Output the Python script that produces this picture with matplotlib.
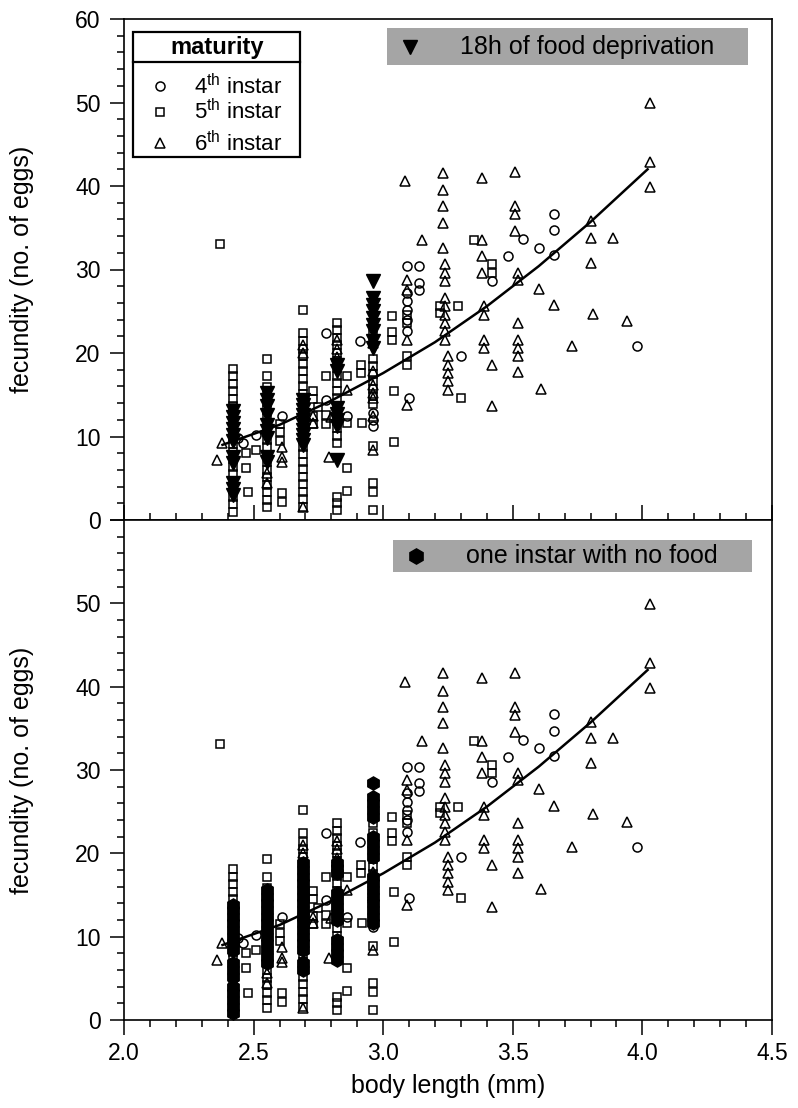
import matplotlib
matplotlib.use("Agg")
import matplotlib.pyplot as plt
from matplotlib.ticker import MultipleLocator, FixedLocator
from matplotlib.patches import Rectangle
from matplotlib.lines import Line2D

plt.rcParams['font.family'] = ['Liberation Sans', 'DejaVu Sans']
plt.rcParams['mathtext.fontset'] = 'custom'
plt.rcParams['mathtext.rm'] = 'Liberation Sans'
plt.rcParams['mathtext.it'] = 'Liberation Sans:italic'
plt.rcParams['mathtext.bf'] = 'Liberation Sans:bold'

# ---- 4th instar females (open circles) ----
circ_len = [2.46, 2.51, 2.44, 2.61, 2.78, 2.78, 2.86,
            2.96, 2.96, 2.96, 2.91,
            3.09, 3.09, 3.09, 3.09, 3.09, 3.09, 3.10,
            3.14, 3.14, 3.14,
            3.30, 3.42, 3.48, 3.54, 3.60, 3.66, 3.66, 3.66, 3.98]
circ_egg = [9.2, 10.2, 9.8, 12.4, 14.4, 22.4, 12.4,
            11.2, 12.0, 12.8, 21.4,
            30.4, 27.2, 26.2, 25.2, 24.0, 22.6, 14.6,
            30.4, 28.4, 27.5,
            19.6, 28.6, 31.6, 33.6, 32.6, 36.7, 34.7, 31.7, 20.8]

# ---- 5th instar females (open squares) ----
sq_len = ([2.42] * 20 + [2.37, 2.47, 2.47, 2.48, 2.51]
          + [2.55] * 19 + [2.60, 2.60, 2.60, 2.61, 2.61]
          + [2.69] * 25 + [2.73, 2.73, 2.73, 2.73, 2.75]
          + [2.82] * 20 + [2.78, 2.78, 2.78, 2.86, 2.86, 2.86, 2.86, 2.915, 2.915, 2.92]
          + [2.96] * 14 + [3.035, 3.035, 3.035, 3.04, 3.04]
          + [3.09, 3.09, 3.09, 3.09]
          + [3.22, 3.22, 3.29, 3.30, 3.35, 3.42, 3.42])
sq_egg = ([1.0, 1.9, 2.8, 3.7, 4.6, 5.5, 6.4, 7.3, 8.2, 9.1, 10.0, 10.9, 11.8, 12.7,
           13.6, 14.5, 15.4, 16.3, 17.2, 18.1]
          + [33.1, 8.0, 6.2, 3.3, 8.4]
          + [1.5, 2.4, 3.3, 4.2, 5.1, 6.0, 6.9, 7.8, 8.7, 9.6, 10.5, 11.4, 12.3, 13.2,
             14.1, 15.0, 15.9, 17.2, 19.3]
          + [11.5, 10.5, 9.5, 3.2, 2.2]
          + [1.6, 2.5, 3.4, 4.3, 5.2, 6.1, 7.0, 7.9, 8.8, 9.7, 10.6, 11.5, 12.4, 13.3,
             14.2, 15.1, 16.0, 16.9, 17.8, 18.7, 19.6, 20.5, 21.4, 22.4, 25.2]
          + [15.5, 14.5, 12.5, 11.5, 13.5]
          + [1.2, 2.0, 2.8, 9.2, 10.1, 11.0, 11.9, 12.8, 13.7, 14.6, 15.5, 16.4, 17.3,
             18.2, 19.1, 20.0, 20.9, 21.8, 22.7, 23.6]
          + [17.2, 12.6, 11.5, 17.2, 11.6, 6.2, 3.5, 18.6, 17.6, 11.6]
          + [1.2, 3.4, 4.4, 8.9, 13.9, 14.8, 15.7, 16.6, 17.5, 18.4, 19.3, 21.5, 22.5, 23.6]
          + [24.4, 22.5, 21.5, 15.4, 9.4]
          + [24.6, 23.6, 19.6, 18.6]
          + [25.6, 24.8, 25.6, 14.6, 33.5, 30.6, 29.6])

# ---- 6th instar females (open triangles) ----
tri_len = [2.36, 2.38, 2.55, 2.55, 2.61, 2.61, 2.61, 2.69, 2.69, 2.69, 2.73, 2.73,
           2.80, 2.79, 2.82, 2.82, 2.82, 2.86,
           2.96, 2.96, 2.96, 2.96, 2.96, 2.96, 2.96,
           3.09, 3.09, 3.09, 3.09, 3.085, 3.15,
           3.23, 3.23, 3.23, 3.23, 3.23, 3.24, 3.24, 3.24, 3.24, 3.24, 3.24, 3.24,
           3.24, 3.24, 3.25, 3.25, 3.25, 3.25, 3.25,
           3.38, 3.38, 3.38, 3.38, 3.39, 3.39, 3.39, 3.39, 3.42, 3.42,
           3.51, 3.51, 3.51, 3.51, 3.52, 3.52, 3.52, 3.52, 3.52, 3.52, 3.52,
           3.60, 3.61, 3.66, 3.73, 3.80, 3.80, 3.80, 3.81, 3.885, 3.94,
           4.03, 4.03, 4.03]
tri_egg = [7.2, 9.2, 5.6, 4.4, 8.8, 7.5, 7.0, 21.0, 20.0, 1.5, 12.4, 11.6,
           12.3, 7.5, 21.5, 20.5, 19.5, 15.6,
           8.4, 12.4, 14.6, 16.2, 17.8, 21.2, 15.2,
           28.8, 27.6, 21.6, 13.8, 40.6, 33.5,
           41.6, 39.5, 37.6, 35.6, 32.6, 30.6, 29.6, 28.6, 26.6, 25.6, 24.6, 23.6,
           22.6, 21.6, 19.6, 18.6, 17.6, 16.6, 15.6,
           41.0, 33.5, 31.6, 29.6, 25.6, 24.6, 21.6, 20.6, 18.6, 13.6,
           41.7, 37.6, 36.6, 34.6, 29.6, 28.8, 23.6, 21.6, 20.6, 19.6, 17.7,
           27.7, 15.7, 25.7, 20.8, 35.8, 33.8, 30.8, 24.7, 33.8, 23.8,
           49.9, 42.9, 39.9]

# ---- females starved for 18 h (filled down-triangles, upper panel) ----
starve18_len = [2.42] * 11 + [2.55] * 9 + [2.69] * 10 + [2.82] * 7 + [2.96] * 9
starve18_egg = ([13.0, 12.3, 11.6, 10.9, 10.2, 9.5, 7.6, 6.8, 4.4, 3.7, 3.0]
                + [15.2, 14.4, 13.6, 12.6, 11.4, 10.6, 9.8, 7.6, 6.9]
                + [14.4, 13.8, 13.2, 12.6, 12.0, 11.4, 10.8, 10.2, 9.6, 9.0]
                + [18.6, 17.8, 13.4, 12.7, 12.0, 11.3, 7.2]
                + [28.6, 26.6, 25.8, 25.0, 24.2, 23.4, 22.6, 21.4, 20.6])

# ---- females without food for one instar (filled hexagons, lower panel) ----
nofood_len = [2.42] * 16 + [2.55] * 12 + [2.69] * 16 + [2.82] * 12 + [2.96] * 17
nofood_egg = ([0.8, 1.6, 2.4, 3.2, 4.0, 5.2, 6.0, 6.8, 8.4, 9.2, 10.0, 10.8, 11.6,
               12.4, 13.2, 13.8]
              + [15.6, 14.8, 14.0, 13.2, 12.4, 11.6, 10.8, 10.0, 9.2, 8.4, 7.6, 6.8]
              + [18.8, 18.0, 17.2, 16.4, 15.6, 14.8, 14.0, 13.2, 12.4, 11.6, 10.8,
                 10.0, 9.2, 8.4, 6.8, 6.0]
              + [18.8, 18.2, 17.6, 15.2, 14.4, 13.6, 12.8, 12.0, 9.6, 8.8, 8.0, 7.2]
              + [28.4, 26.8, 26.0, 25.2, 24.4, 22.0, 21.2, 20.4, 19.6, 17.2, 16.4,
                 15.6, 14.8, 14.0, 13.2, 12.4, 11.6])

# ---- fitted fecundity-length curve ----
fit_len = [2.38, 2.60, 2.80, 3.00, 3.20, 3.40, 3.60, 3.80, 4.02]
fit_egg = [9.0, 11.4, 14.3, 17.6, 21.3, 25.6, 30.4, 35.7, 42.0]

x_ticks = [2.0, 2.5, 3.0, 3.5, 4.0, 4.5]
x_ticklabels = ['2.0', '2.5', '3.0', '3.5', '4.0', '4.5']
y_ticks = [0, 10, 20, 30, 40, 50, 60]
legend_labels = [r'$4^{\mathrm{th}}$ instar', r'$5^{\mathrm{th}}$ instar',
                 r'$6^{\mathrm{th}}$ instar']

W, H = 798, 1108
fig = plt.figure(figsize=(W / 100, H / 100), dpi=100)
ax_top = fig.add_axes([124 / W, 1 - 520 / H, 648 / W, 501 / H])
ax_bot = fig.add_axes([124 / W, 1 - 1020 / H, 648 / W, 500 / H])

open_kw = dict(linestyle='none', mfc='none', mec='black', mew=1.1)


def draw_common(ax):
    ax.plot(sq_len, sq_egg, marker='s', ms=5.5, **open_kw, zorder=2)
    ax.plot(circ_len, circ_egg, marker='o', ms=6.5, **open_kw, zorder=2)
    ax.plot(tri_len, tri_egg, marker='^', ms=6.5, **open_kw, zorder=2)
    ax.plot(fit_len, fit_egg, color='black', lw=1.8, zorder=4)
    ax.set_xlim(2.0, 4.5)
    ax.set_ylim(0, 60)
    ax.xaxis.set_major_locator(FixedLocator(x_ticks))
    ax.xaxis.set_minor_locator(MultipleLocator(0.1))
    ax.yaxis.set_major_locator(FixedLocator(y_ticks))
    ax.yaxis.set_minor_locator(MultipleLocator(2))
    for s in ax.spines.values():
        s.set_linewidth(1.2)
    ax.tick_params(axis='y', which='both', direction='out', right=False,
                   labelsize=16.5, pad=7, width=1.1)
    ax.tick_params(axis='y', which='major', length=10)
    ax.tick_params(axis='y', which='minor', length=5)
    ax.set_ylabel('fecundity (no. of eggs)', fontsize=18)
    ax.yaxis.set_label_coords(-90 / 648, 0.5)


draw_common(ax_top)
draw_common(ax_bot)

# upper panel: filled down-triangles
ax_top.plot(starve18_len, starve18_egg, linestyle='none', marker='v', ms=10,
            mfc='black', mec='black', zorder=3)
ax_top.tick_params(axis='x', which='both', direction='in', top=False,
                   labelbottom=False, width=1.1)
ax_top.tick_params(axis='x', which='major', length=11)
ax_top.tick_params(axis='x', which='minor', length=5)
ax_top.set_yticklabels(['0', '10', '20', '30', '40', '50', '60'])

# lower panel: filled hexagons
ax_bot.plot(nofood_len, nofood_egg, linestyle='none', marker='h', ms=9.5,
            mfc='black', mec='black', zorder=3)
ax_bot.tick_params(axis='x', which='both', direction='out', top=False,
                   labelsize=16.5, pad=5, width=1.1)
ax_bot.tick_params(axis='x', which='major', length=11)
ax_bot.tick_params(axis='x', which='minor', length=5)
ax_bot.set_xticklabels(x_ticklabels)
ax_bot.set_yticklabels(['0', '10', '20', '30', '40', '50', ''])
ax_bot.set_xlabel('body length (mm)', fontsize=18)
ax_bot.xaxis.set_label_coords(0.5, -54 / 500)

# treatment banners
gray = '#a5a5a5'
ax_top.add_patch(Rectangle((0.406, 0.908), 0.557, 0.074, transform=ax_top.transAxes,
                           facecolor=gray, edgecolor='none', zorder=5))
ax_top.plot([0.441], [0.945], transform=ax_top.transAxes, marker='v', ms=10,
            color='black', linestyle='none', zorder=6)
ax_top.text(0.519, 0.945, '18h of food deprivation', transform=ax_top.transAxes,
            fontsize=18, va='center', ha='left', zorder=6)

ax_bot.add_patch(Rectangle((0.415, 0.896), 0.554, 0.064, transform=ax_bot.transAxes,
                           facecolor=gray, edgecolor='none', zorder=5))
ax_bot.plot([0.451], [0.928], transform=ax_bot.transAxes, marker='h', ms=11,
            color='black', linestyle='none', zorder=6)
ax_bot.text(0.528, 0.928, 'one instar with no food', transform=ax_bot.transAxes,
            fontsize=18, va='center', ha='left', zorder=6)

# maturity key
ax_top.add_patch(Rectangle((0.014, 0.725), 0.258, 0.249, transform=ax_top.transAxes,
                           facecolor='white', edgecolor='black', lw=1.6, zorder=5))
ax_top.add_line(Line2D([0.014, 0.272], [0.914, 0.914], transform=ax_top.transAxes,
                       color='black', lw=1.6, zorder=6))
ax_top.text(0.143, 0.943, 'maturity', transform=ax_top.transAxes, fontsize=17,
            fontweight='bold', ha='center', va='center', zorder=6)
key_y = [0.866, 0.815, 0.752]
key_marker = ['o', 's', '^']
key_ms = [6.5, 5.5, 6.5]
for yy, mk, ms, lab in zip(key_y, key_marker, key_ms, legend_labels):
    ax_top.plot([0.0556], [yy], transform=ax_top.transAxes, marker=mk, ms=ms,
                **open_kw, zorder=6)
    ax_top.text(0.108, yy, lab, transform=ax_top.transAxes, fontsize=16,
                ha='left', va='center', zorder=6)

fig.savefig('out.png', dpi=100)
